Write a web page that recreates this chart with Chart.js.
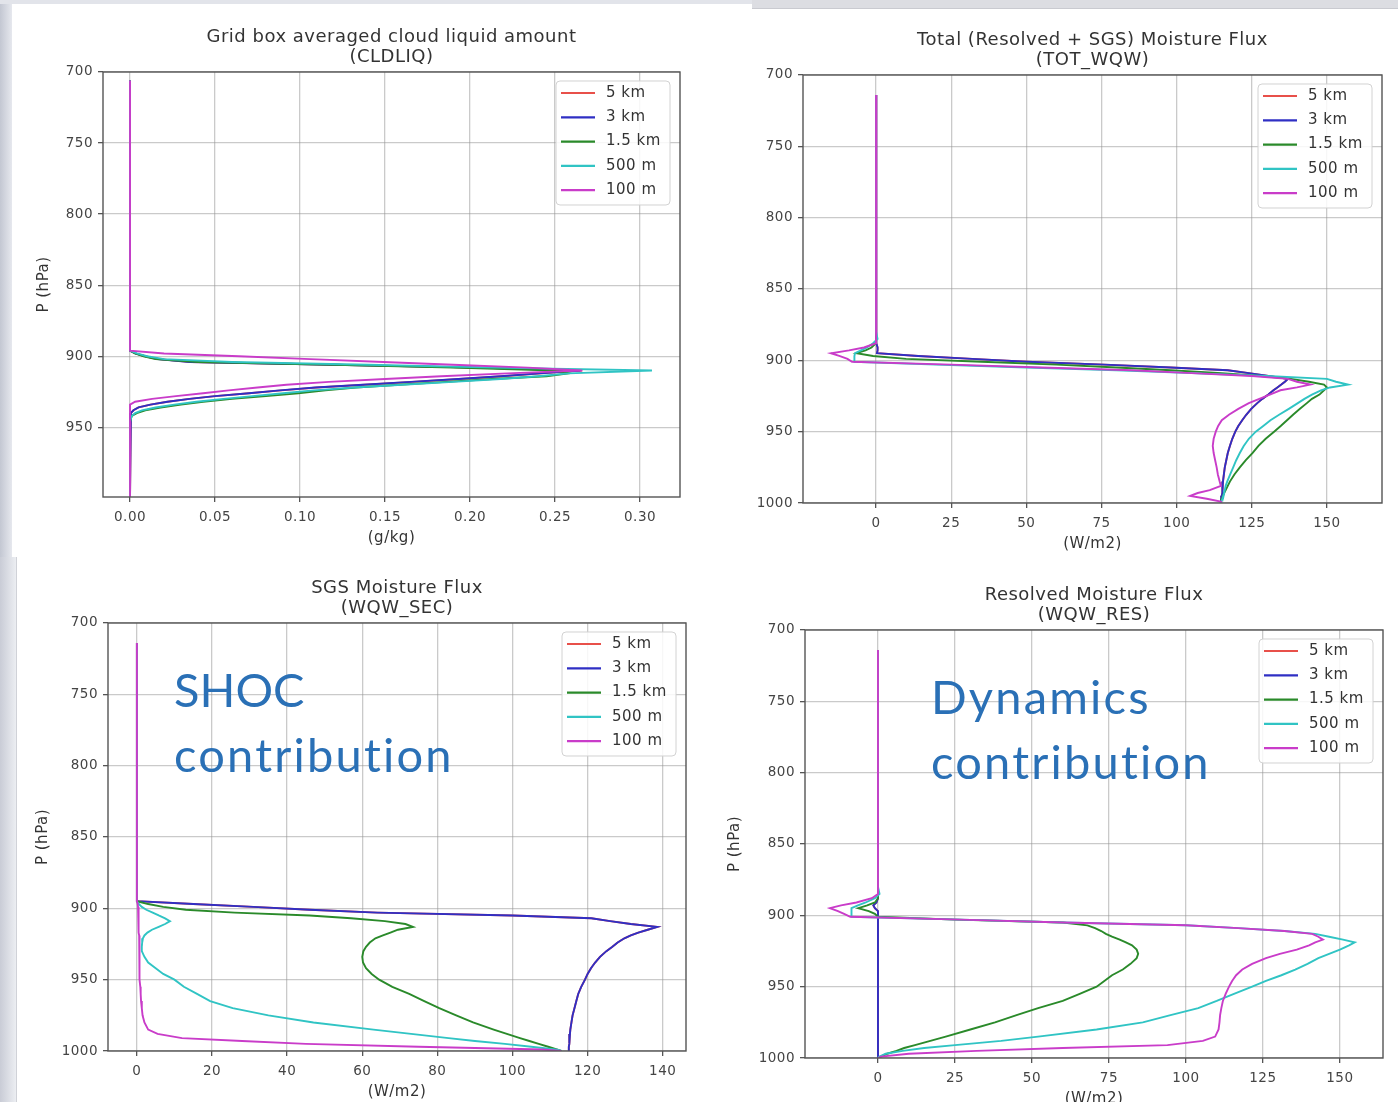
<!DOCTYPE html>
<html>
<head>
<meta charset="utf-8">
<script src="https://cdn.jsdelivr.net/npm/chart.js@4.4.1/dist/chart.umd.min.js"></script>
<style>
  html,body{margin:0;padding:0;background:#fff;}
  body{width:1398px;height:1102px;position:relative;overflow:hidden;font-family:"DejaVu Sans",sans-serif;}
  .strip{position:absolute;}
  canvas{position:absolute;}
  .note{position:absolute;font-family:Lato,"Open Sans",sans-serif;color:#2a70b6;font-size:47px;line-height:65px;letter-spacing:2.2px;white-space:nowrap;}
  .note .tight{letter-spacing:0;}
</style>
</head>
<body>
<div class="strip" style="left:0;top:0;width:12px;height:557px;background:linear-gradient(to right,#c3c7d2,#e6e8ee)"></div>
<div class="strip" style="left:0;top:0;width:752px;height:4px;background:#e2e4ea"></div>
<div class="strip" style="left:752px;top:0;width:646px;height:8px;background:#dcdde2;border-bottom:1px solid #c9cad0"></div>
<div class="strip" style="left:0;top:557px;width:16px;height:545px;background:linear-gradient(to right,#c9ccd6,#eceef2);border-right:1px solid #d0d2d8"></div>

<canvas id="c1"></canvas>
<canvas id="c2"></canvas>
<canvas id="c3"></canvas>
<canvas id="c4"></canvas>

<div class="note" style="left:174px;top:657px"><span class="tight">SHOC</span><br>contribution</div>
<div class="note" style="left:931px;top:664px">Dynamics<br>contribution</div>

<script>
/* ---- data ---- */
const SERIES_LABELS = ['5 km', '3 km', '1.5 km', '500 m', '100 m'];
const SERIES_COLORS = ['#e8504a', '#2f2fc4', '#2a8a2a', '#30c4c4', '#c93cc9'];

// cloud liquid (g/kg) on model levels (hPa)
const P_CLD = [706, 896, 898, 900, 902, 904, 906, 908, 910, 912, 914, 916, 918, 920, 922, 924, 926, 928, 930, 932, 934, 936, 938, 940, 942, 946, 999];
const CLD_5KM  = [0, 0, 0.003, 0.009, 0.017, 0.036, 0.121, 0.204, 0.266, 0.242, 0.219, 0.194, 0.166, 0.138, 0.110, 0.089, 0.070, 0.050, 0.035, 0.022, 0.012, 0.005, 0.002, 0.0005, 0, 0, 0];
const CLD_3KM  = [0, 0, 0.003, 0.009, 0.016, 0.035, 0.120, 0.203, 0.265, 0.241, 0.218, 0.193, 0.165, 0.137, 0.109, 0.088, 0.070, 0.050, 0.035, 0.022, 0.012, 0.005, 0.002, 0.0005, 0, 0, 0];
const CLD_1P5KM = [0, 0, 0.003, 0.008, 0.015, 0.040, 0.120, 0.190, 0.250, 0.258, 0.245, 0.213, 0.186, 0.158, 0.133, 0.115, 0.099, 0.080, 0.060, 0.043, 0.030, 0.018, 0.009, 0.004, 0.001, 0, 0];
const CLD_500M = [0, 0, 0.004, 0.010, 0.020, 0.060, 0.140, 0.215, 0.307, 0.258, 0.240, 0.218, 0.190, 0.160, 0.132, 0.108, 0.090, 0.072, 0.055, 0.039, 0.026, 0.015, 0.007, 0.003, 0.001, 0, 0];
const CLD_100M = [0, 0, 0.020, 0.064, 0.106, 0.149, 0.190, 0.234, 0.266, 0.222, 0.183, 0.150, 0.117, 0.092, 0.075, 0.058, 0.043, 0.027, 0.013, 0.003, 0, 0, 0, 0, 0, 0, 0];

// moisture fluxes (W/m2) on interface levels (hPa)
const P_FLUX = [714, 880, 885, 888, 891, 893, 895, 897, 899, 901, 903, 905, 907, 909, 911, 913, 915, 917, 919, 921, 924, 927, 930, 934, 938, 942, 946, 950, 955, 960, 965, 970, 975, 980, 985, 988, 991, 993, 995, 997, 999, 1000];

const TOT_5KM  = [0, 0, 0, 0.3, 0.5, 0.5, 0.3, 14, 32, 50, 76, 98, 117, 124, 130.5, 137, 136, 134.8, 133.5, 132.2, 130.5, 128.5, 126.8, 124.8, 123.2, 121.8, 120.5, 119.5, 118.5, 117.7, 117, 116.5, 116, 115.7, 115.4, 115.3, 115.2, 115.1, 115, 114.8, 114.7, 114.7];
const TOT_3KM  = [0, 0, 0, 0.3, 0.5, 0.5, 0.3, 14, 32, 50, 76, 98, 117, 124, 130.5, 137, 136, 134.8, 133.5, 132.2, 130.5, 128.5, 126.8, 124.8, 123.2, 121.8, 120.5, 119.5, 118.5, 117.7, 117, 116.5, 116, 115.7, 115.4, 115.3, 115.2, 115.1, 115, 114.8, 114.7, 114.7];
const TOT_1P5KM = [0, 0, 0, 0, -1.5, -3.5, -6.5, -1, 10, 35, 60, 80, 98, 115, 128, 138, 144, 149, 150, 149, 147.5, 145, 143.3, 141, 138.8, 136.7, 134.6, 132.4, 129.6, 127.2, 125.2, 123, 121, 119.2, 117.7, 117, 116.3, 115.8, 115.4, 115, 114.8, 114.7];
const TOT_500M = [0, 0, 0.5, -1, -3, -5, -7, -7.2, -7.2, -7.2, 20, 50, 80, 105, 130, 150, 153, 157, 151, 148, 145, 142.5, 140.3, 137.3, 134.2, 131.2, 128.8, 126.3, 124, 122.3, 121, 119.8, 118.8, 117.8, 116.8, 116.3, 116, 115.8, 115.5, 115.2, 114.9, 114.8];
const TOT_100M = [0, 0, 0, 0, -4, -9, -15, -12, -9.5, -8, 25, 55, 85, 105, 125, 137, 140, 144.5, 140, 134.5, 131, 127.5, 124, 120.5, 117.5, 115, 113.8, 113, 112.3, 112, 112.3, 112.8, 113.3, 113.7, 114.3, 114.7, 111, 107, 104.5, 110, 114.7, 115];

const SEC_5KM  = [0, 0, 0, 0, 0, 0, 0, 15, 31, 46, 64, 100, 121, 126, 131.5, 138.5, 136, 133.5, 131.5, 129.8, 128, 126.6, 125, 123.3, 122, 120.9, 120, 119.3, 118.3, 117.5, 117, 116.5, 116, 115.7, 115.4, 115.3, 115.2, 115.1, 115.1, 115, 115, 115];
const SEC_3KM  = [0, 0, 0, 0, 0, 0, 0, 15, 31, 46, 64, 100, 121, 126, 131.5, 138.5, 136, 133.5, 131.5, 129.8, 128, 126.6, 125, 123.3, 122, 120.9, 120, 119.3, 118.3, 117.5, 117, 116.5, 116, 115.7, 115.4, 115.3, 115.2, 115.1, 115.1, 115, 115, 115];
const SEC_1P5KM = [0, 0, 0, 0, 0, 0, 0, 3, 7, 13, 26, 46, 57, 66, 71.5, 73.5, 69.5, 67.5, 65.5, 63.5, 62, 61, 60.3, 60, 60.2, 61, 62.5, 64.5, 68, 72.5, 76.5, 80.5, 85, 89.5, 95, 98.5, 102, 104.5, 107, 109.5, 112, 113];
const SEC_500M = [0, 0, 0, 0, 0, 0, 0, 0.5, 1.3, 2.5, 4.2, 5.8, 7.5, 8.8, 7.5, 5.8, 4, 2.8, 2, 1.6, 1.4, 1.3, 1.3, 2, 3, 5, 7, 10, 12.5, 16, 19.5, 25.5, 35, 47, 63, 73, 83, 90, 98, 105, 112, 113];
const SEC_100M = [0, 0, 0, 0, 0, 0, 0, 0.2, 0.3, 0.3, 0.4, 0.4, 0.4, 0.5, 0.5, 0.5, 0.5, 0.5, 0.6, 0.6, 0.6, 0.6, 0.7, 0.7, 0.7, 0.7, 0.8, 0.8, 0.9, 1, 1.1, 1.3, 1.5, 2, 3, 5.5, 12, 28, 45, 75, 108, 113];

const RES_5KM  = [0, 0, 0, 0, -0.5, -1.5, -1, 0, 0, 0, 0, 0, 0, 0, 0, 0, 0, 0, 0, 0, 0, 0, 0, 0, 0, 0, 0, 0, 0, 0, 0, 0, 0, 0, 0, 0, 0, 0, 0, 0, 0, 0];
const RES_3KM  = [0, 0, 0, 0, -0.5, -1.5, -1, 0, 0, 0, 0, 0, 0, 0, 0, 0, 0, 0, 0, 0, 0, 0, 0, 0, 0, 0, 0, 0, 0, 0, 0, 0, 0, 0, 0, 0, 0, 0, 0, 0, 0, 0];
const RES_1P5KM = [0, 0, 0, 0, -1, -3.5, -6.4, -3, -1, 0, 25, 60, 68, 70.5, 72.5, 74, 76, 78.5, 80.5, 82.5, 84, 84.5, 84, 82, 79.5, 76, 73.5, 71, 65.5, 60, 52, 45, 38, 30, 22, 17, 12, 8.5, 6, 3, 1, 0];
const RES_500M = [0, 0, 0.5, -1, -4, -6.5, -8.6, -8.6, -8.6, -8.6, 27, 60, 100, 117, 132, 142, 146.5, 151, 154.8, 153, 150, 146.5, 143, 139.5, 135.5, 131, 126, 121.5, 115.6, 110, 104, 95, 86, 71, 52, 40, 25, 15, 8, 2.5, 0.5, 0];
const RES_100M = [0, 0, 0, -2, -7, -12, -15.6, -13, -11, -9, 27, 60, 100, 117, 132, 141, 143, 144.5, 142, 140, 136, 130.5, 126, 121.5, 118.3, 116.3, 115, 114, 112.9, 112, 111.5, 111.1, 110.9, 110.6, 109.5, 105.5, 94, 60, 32, 10, 1, 0];

const X_TICKS_CLD = [0, 0.05, 0.10, 0.15, 0.20, 0.25, 0.30];
const X_TICKS_TOT = [0, 25, 50, 75, 100, 125, 150];
const X_TICKS_SEC = [0, 20, 40, 60, 80, 100, 120, 140];
const X_TICKS_RES = [0, 25, 50, 75, 100, 125, 150];
const Y_TICKS_CLD = [700, 750, 800, 850, 900, 950];
const Y_TICKS_FLUX = [700, 750, 800, 850, 900, 950, 1000];

/* ---- plugins ---- */
// the source figure is a stretched screenshot: text runs a bit wide
const wideText = {
  id: 'wideText',
  beforeUpdate(chart) { chart.ctx.letterSpacing = '0.5px'; },
  beforeDraw(chart) { chart.ctx.letterSpacing = '0.5px'; }
};

const frame = {
  id: 'frame',
  afterDatasetsDraw(chart) {
    const {ctx, chartArea: a} = chart;
    ctx.save();
    ctx.strokeStyle = '#555'; ctx.lineWidth = 1.4;
    ctx.strokeRect(a.left, a.top, a.width, a.height);
    ctx.restore();
  }
};

const legendBox = {
  id: 'legendBox',
  afterDatasetsDraw(chart) {
    const {ctx, chartArea: a} = chart;
    const w = 114, h = 124, x = a.right - 10 - w, y = a.top + 9;
    ctx.save();
    ctx.fillStyle = 'rgba(255,255,255,0.85)';
    ctx.strokeStyle = '#d2d2d2'; ctx.lineWidth = 1;
    ctx.beginPath(); ctx.roundRect(x, y, w, h, 4); ctx.fill(); ctx.stroke();
    ctx.font = '15px "DejaVu Sans"'; ctx.textBaseline = 'middle';
    chart.data.datasets.forEach((ds, i) => {
      const cy = y + 12 + i * 24.3;
      ctx.strokeStyle = ds.borderColor; ctx.lineWidth = 2.2;
      ctx.beginPath(); ctx.moveTo(x + 5, cy); ctx.lineTo(x + 39, cy); ctx.stroke();
      ctx.fillStyle = '#333';
      ctx.fillText(ds.label, x + 50, cy);
    });
    ctx.restore();
  }
};

/* ---- panels ---- */
const PANELS = [
  {id:'c1', title:['Grid box averaged cloud liquid amount','(CLDLIQ)'], xLabel:'(g/kg)', yLabel:true, yPad:12,
   L:103, R:680, T:72, B:497, xMin:-0.0159, xMax:0.3235, yMax:999, xTicks:X_TICKS_CLD, yTicks:Y_TICKS_CLD, dec:2,
   levels:P_CLD, series:[CLD_5KM, CLD_3KM, CLD_1P5KM, CLD_500M, CLD_100M]},
  {id:'c2', title:['Total (Resolved + SGS) Moisture Flux','(TOT_WQW)'], xLabel:'(W/m2)', yLabel:false, yPad:0,
   L:803, R:1382, T:75, B:503, xMin:-24.3, xMax:168.3, yMax:1000, xTicks:X_TICKS_TOT, yTicks:Y_TICKS_FLUX, dec:0,
   levels:P_FLUX, series:[TOT_5KM, TOT_3KM, TOT_1P5KM, TOT_500M, TOT_100M]},
  {id:'c3', title:['SGS Moisture Flux','(WQW_SEC)'], xLabel:'(W/m2)', yLabel:true, yPad:6,
   L:108, R:686, T:623, B:1051, xMin:-7.7, xMax:146.2, yMax:1000, xTicks:X_TICKS_SEC, yTicks:Y_TICKS_FLUX, dec:0,
   levels:P_FLUX, series:[SEC_5KM, SEC_3KM, SEC_1P5KM, SEC_500M, SEC_100M]},
  {id:'c4', title:['Resolved Moisture Flux','(WQW_RES)'], xLabel:'(W/m2)', yLabel:true, yPad:1,
   L:805, R:1383, T:630, B:1058, xMin:-23.7, xMax:164, yMax:1000, xTicks:X_TICKS_RES, yTicks:Y_TICKS_FLUX, dec:0,
   levels:P_FLUX, series:[RES_5KM, RES_3KM, RES_1P5KM, RES_500M, RES_100M]},
];

const YW = 80, XH = 55, TH = 62, RP = 4;
const tickFont = {family:'"DejaVu Sans"', size:13.5};
const labelFont = {family:'"DejaVu Sans"', size:15};

PANELS.forEach(p => {
  const cv = document.getElementById(p.id);
  const w = p.R - p.L + YW + RP, h = p.B - p.T + TH + XH;
  cv.style.left = (p.L - YW) + 'px'; cv.style.top = (p.T - TH) + 'px';
  cv.style.width = w + 'px'; cv.style.height = h + 'px';
  cv.width = w; cv.height = h;

  const datasets = p.series.map((vals, i) => ({
    label: SERIES_LABELS[i],
    data: p.levels.map((lev, k) => ({x: vals[k], y: lev})),
    borderColor: SERIES_COLORS[i],
    borderWidth: 1.9,
    pointRadius: 0,
    showLine: true,
    fill: false,
    tension: 0,
    order: p.series.length - i
  }));

  new Chart(cv, {
    type: 'scatter',
    data: {datasets},
    options: {
      responsive: false, animation: false, events: [],
      layout: {padding: {left: 0, right: RP, top: 0, bottom: 0}},
      plugins: {
        legend: {display: false}, tooltip: {enabled: false},
        title: {display: true, text: p.title, fullSize: false, color: '#333',
                font: {family:'"DejaVu Sans"', size: 18, lineHeight: 1.111, weight: 'normal'},
                padding: {top: 17, bottom: 5}}
      },
      scales: {
        x: {
          type: 'linear', min: p.xMin, max: p.xMax,
          afterFit: s => { s.height = XH; },
          afterBuildTicks: s => { s.ticks = p.xTicks.map(v => ({value: v})); },
          ticks: {font: tickFont, color: '#444', padding: 7, maxRotation: 0,
                  callback: v => Number(v).toFixed(p.dec)},
          grid: {color: 'rgba(150,150,150,0.5)', lineWidth: 1.3, tickLength: 5, tickColor: '#555'},
          border: {display: false},
          title: {display: true, text: p.xLabel, color: '#333', font: labelFont, padding: {top: 0, bottom: 5}}
        },
        y: {
          type: 'linear', reverse: true, min: 700, max: p.yMax,
          afterFit: s => { s.width = YW; },
          afterBuildTicks: s => { s.ticks = p.yTicks.map(v => ({value: v})); },
          ticks: {font: tickFont, color: '#444', padding: 5, callback: v => String(v)},
          grid: {color: 'rgba(150,150,150,0.5)', lineWidth: 1.3, tickLength: 5, tickColor: '#555'},
          border: {display: false},
          title: {display: p.yLabel, text: 'P (hPa)', color: '#333', font: labelFont, padding: {top: p.yPad, bottom: 0}}
        }
      }
    },
    plugins: [wideText, frame, legendBox]
  });
});
</script>
</body>
</html>
